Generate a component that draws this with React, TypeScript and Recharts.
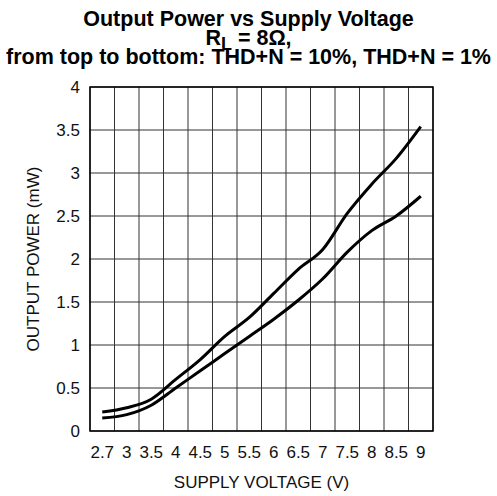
import { LineChart, Line, XAxis, YAxis, CartesianGrid, ReferenceArea } from 'recharts'

const voltages = ['2.7', '3', '3.5', '4', '4.5', '5', '5.5', '6', '6.5', '7', '7.5', '8', '8.5', '9']
const thd10 = [0.22, 0.27, 0.37, 0.6, 0.83, 1.1, 1.32, 1.6, 1.88, 2.11, 2.53, 2.87, 3.17, 3.54]
const thd1 = [0.15, 0.19, 0.3, 0.5, 0.7, 0.9, 1.1, 1.3, 1.52, 1.77, 2.08, 2.33, 2.5, 2.73]
const yTicks = [0, 0.5, 1, 1.5, 2, 2.5, 3, 3.5, 4]

// each voltage sits in the middle of its own column
const data = voltages.map((v, i) => ({ pos: i + 0.5, label: v, thd10: thd10[i], thd1: thd1[i] }))
const columnEdges = voltages.map((_, i) => i).concat(voltages.length)
const font = 'Liberation Sans, Arial, sans-serif'

export default function App() {
  return (
    <div style={{ position: 'absolute', left: 0, top: 0, width: 497, height: 496, fontFamily: font }}>
      <div
        style={{
          position: 'absolute',
          top: 10,
          left: 0,
          width: 497,
          textAlign: 'center',
          fontWeight: 'bold',
          fontSize: 21.5,
          lineHeight: '18.5px',
          color: '#000',
          zIndex: 2,
        }}
      >
        <div>Output Power vs Supply Voltage</div>
        <div>
          R<span style={{ position: 'relative', top: 5, fontSize: 18 }}>L</span> = 8Ω,
        </div>
        <div>from top to bottom: THD+N = 10%, THD+N = 1%</div>
      </div>
      <LineChart width={497} height={496} data={data} margin={{ top: 87, right: 64, bottom: 0, left: 0 }}>
        <CartesianGrid stroke="#333" strokeWidth={1} verticalValues={columnEdges} horizontalValues={yTicks} />
        <XAxis
          dataKey="pos"
          type="number"
          domain={[0, voltages.length]}
          ticks={data.map((d) => d.pos)}
          tickFormatter={(p: number) => voltages[Math.floor(p)]}
          axisLine={false}
          tickLine={false}
          tickMargin={9}
          height={65}
          interval={0}
          tick={{ fill: '#111', fontSize: 17, fontFamily: font }}
          label={{ value: 'SUPPLY VOLTAGE (V)', position: 'insideBottom', offset: 8, fill: '#111', fontSize: 17, fontFamily: font }}
        />
        <YAxis
          type="number"
          domain={[0, 4]}
          ticks={yTicks}
          axisLine={false}
          tickLine={false}
          tickMargin={4}
          width={90}
          interval={0}
          tick={{ fill: '#111', fontSize: 17, fontFamily: font }}
          label={{
            value: 'OUTPUT POWER (mW)',
            angle: -90,
            position: 'insideLeft',
            offset: 33,
            fill: '#111',
            fontSize: 17,
            fontFamily: font,
            style: { textAnchor: 'middle' },
          }}
        />
        <ReferenceArea x1={0} x2={voltages.length} y1={0} y2={4} fill="none" stroke="#000" strokeWidth={1.5} />
        <Line type="monotone" dataKey="thd10" stroke="#000" strokeWidth={3} dot={false} isAnimationActive={false} />
        <Line type="monotone" dataKey="thd1" stroke="#000" strokeWidth={3} dot={false} isAnimationActive={false} />
      </LineChart>
    </div>
  )
}
